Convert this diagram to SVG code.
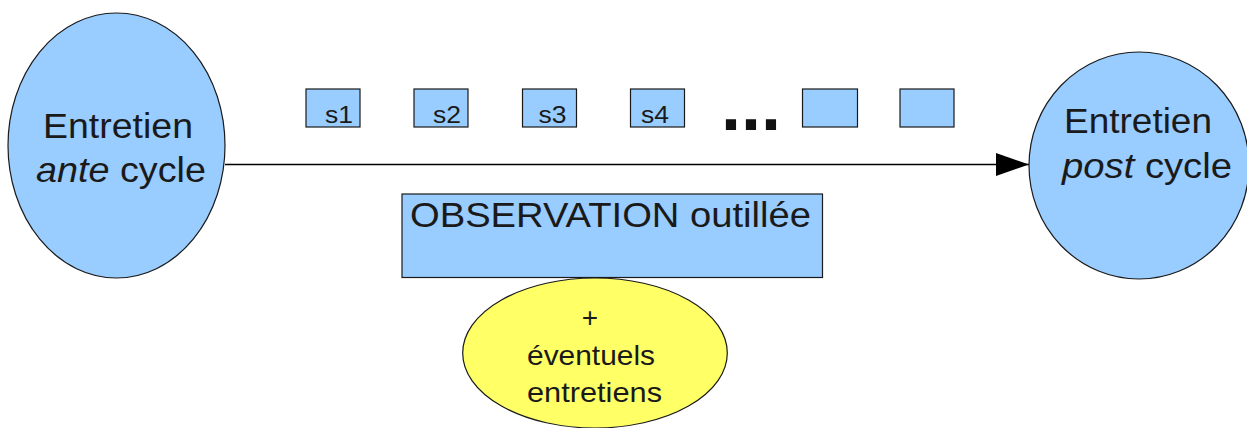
<svg xmlns="http://www.w3.org/2000/svg" width="1247" height="428" viewBox="0 0 1247 428">
  <style>
    .blue { fill: #99ccff; stroke: #1a1a1a; stroke-width: 1.2; }
    .yellow { fill: #ffff66; stroke: #1a1a1a; stroke-width: 1.2; }
    .lbl { font-family: "Liberation Sans", Arial, sans-serif; fill: #1a1a1a; }
    .big { font-size: 35px; }
    .mid { font-size: 28px; }
    .small { font-size: 23px; }
    .conn { stroke: #000; stroke-width: 1.5; fill: none; }
  </style>
  <defs>
    <marker id="arrow" markerUnits="userSpaceOnUse" markerWidth="34" markerHeight="24" refX="33" refY="11.5" orient="auto">
      <polygon points="0,0 33,11.5 0,23" fill="#000"/>
    </marker>
  </defs>

  <rect width="1247" height="428" fill="#ffffff"/>

  <!-- connectors -->
  <g id="connectors">
    <line class="conn" x1="225" y1="164.5" x2="1029" y2="164.5" marker-end="url(#arrow)"/>
  </g>

  <!-- start interview -->
  <g id="ante">
    <ellipse class="blue" cx="116.5" cy="145.5" rx="108.5" ry="132.5"/>
    <text class="lbl big" x="43" y="138" textLength="150" lengthAdjust="spacingAndGlyphs">Entretien</text>
    <text class="lbl big" x="36" y="182" textLength="170" lengthAdjust="spacingAndGlyphs"><tspan font-style="italic">ante</tspan> cycle</text>
  </g>

  <!-- end interview -->
  <g id="post">
    <ellipse class="blue" cx="1139" cy="165.5" rx="110" ry="113.5"/>
    <text class="lbl big" x="1064" y="133" textLength="148" lengthAdjust="spacingAndGlyphs">Entretien</text>
    <text class="lbl big" x="1062" y="178" textLength="170" lengthAdjust="spacingAndGlyphs"><tspan font-style="italic">post</tspan> cycle</text>
  </g>

  <!-- sessions -->
  <g id="s1">
    <rect class="blue" x="306" y="89" width="54" height="38"/>
    <text class="lbl small" x="325" y="123" textLength="28" lengthAdjust="spacingAndGlyphs">s1</text>
  </g>
  <g id="s2">
    <rect class="blue" x="414" y="89" width="54" height="38"/>
    <text class="lbl small" x="433" y="123" textLength="28" lengthAdjust="spacingAndGlyphs">s2</text>
  </g>
  <g id="s3">
    <rect class="blue" x="522.5" y="89" width="54" height="38"/>
    <text class="lbl small" x="538.5" y="123" textLength="28" lengthAdjust="spacingAndGlyphs">s3</text>
  </g>
  <g id="s4">
    <rect class="blue" x="630.5" y="89" width="54" height="38"/>
    <text class="lbl small" x="641" y="123" textLength="28" lengthAdjust="spacingAndGlyphs">s4</text>
  </g>
  <g id="ellipsis">
    <text x="721" y="129.5" font-family="'Liberation Sans', Arial, sans-serif" font-weight="bold" font-size="72" fill="#111">...</text>
  </g>
  <g id="s5">
    <rect class="blue" x="802.5" y="89" width="55" height="38"/>
  </g>
  <g id="s6">
    <rect class="blue" x="900" y="89" width="54" height="38"/>
  </g>

  <!-- observation -->
  <g id="observation">
    <rect class="blue" x="402" y="194" width="420.5" height="83.5"/>
    <text class="lbl big" x="410" y="227" textLength="401" lengthAdjust="spacingAndGlyphs">OBSERVATION outillée</text>
  </g>

  <!-- optional interviews -->
  <g id="extra">
    <ellipse class="yellow" cx="595" cy="353" rx="132.3" ry="75"/>
    <text class="lbl mid" x="590" y="327" text-anchor="middle">+</text>
    <text class="lbl mid" x="527" y="365" textLength="128" lengthAdjust="spacingAndGlyphs">éventuels</text>
    <text class="lbl mid" x="527" y="401.5" textLength="135" lengthAdjust="spacingAndGlyphs">entretiens</text>
  </g>
</svg>
